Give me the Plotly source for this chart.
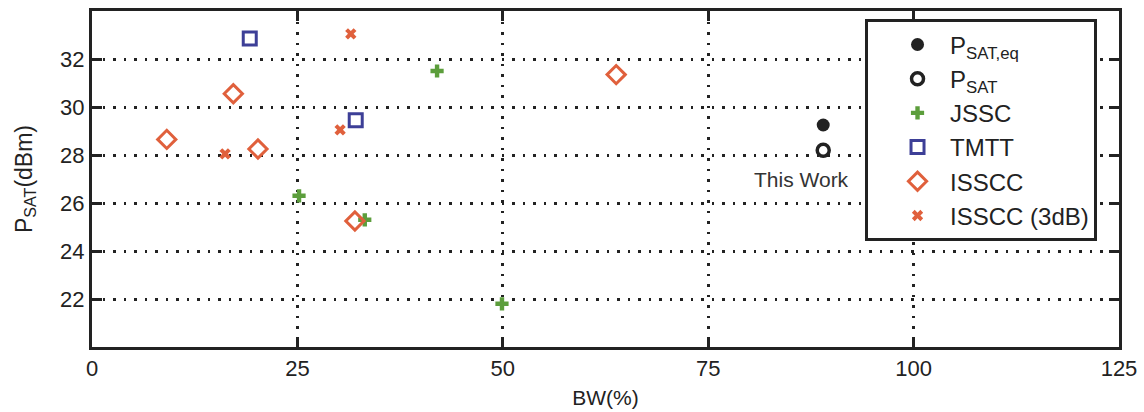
import plotly.graph_objects as go

# Saturated output power vs. fractional bandwidth, published PAs and this work
this_work_bw = [89.0]
this_work_psat_eq = [29.25]
this_work_psat = [28.2]

jssc_bw = [25.2, 33.2, 42.0, 49.9]
jssc_psat = [26.3, 25.3, 31.5, 21.8]

tmtt_bw = [19.2, 32.1]
tmtt_psat = [32.85, 29.45]

isscc_bw = [9.1, 17.2, 20.2, 32.0, 63.8]
isscc_psat = [28.65, 30.55, 28.25, 25.25, 31.35]

isscc3db_bw = [16.2, 30.2, 31.5]
isscc3db_psat = [28.05, 29.05, 33.05]

x_ticks = [0, 25, 50, 75, 100, 125]
y_ticks = [22, 24, 26, 28, 30, 32]

FONT = "Liberation Sans, Arial, sans-serif"
INK = "#222222"
GREEN = "#5c9e3c"
BLUE = "#3d3f97"
ORANGE = "#e0603c"

fig = go.Figure()

fig.add_trace(go.Scatter(
    x=this_work_bw, y=this_work_psat_eq, mode="markers",
    name="P<sub>SAT,eq</sub>",
    marker=dict(symbol="circle", size=13, color=INK),
))
fig.add_trace(go.Scatter(
    x=this_work_bw, y=this_work_psat, mode="markers",
    name="P<sub>SAT</sub>",
    marker=dict(symbol="circle-open", size=12, color=INK, line=dict(width=3.5, color=INK)),
))
fig.add_trace(go.Scatter(
    x=jssc_bw, y=jssc_psat, mode="markers", name="JSSC",
    marker=dict(symbol="cross", size=11, color=GREEN, line=dict(width=0)),
))
fig.add_trace(go.Scatter(
    x=tmtt_bw, y=tmtt_psat, mode="markers", name="TMTT",
    marker=dict(symbol="square-open", size=13, color=BLUE, line=dict(width=3, color=BLUE)),
))
fig.add_trace(go.Scatter(
    x=isscc_bw, y=isscc_psat, mode="markers", name="ISSCC",
    marker=dict(symbol="diamond-open", size=14, color=ORANGE, line=dict(width=3, color=ORANGE)),
))
fig.add_trace(go.Scatter(
    x=isscc3db_bw, y=isscc3db_psat, mode="markers", name="ISSCC (3dB)",
    marker=dict(symbol="x", size=10, color=ORANGE, line=dict(width=0)),
))

fig.add_annotation(
    x=86.3, y=27.0, text="This Work", showarrow=False,
    font=dict(family=FONT, size=21, color="#333333"),
)

axis_common = dict(
    showline=True, linewidth=3, linecolor=INK, mirror="ticks",
    ticks="inside", ticklen=10, tickwidth=3, tickcolor=INK,
    showgrid=True, gridcolor=INK, gridwidth=2.5, griddash="2.5px,8px",
    zeroline=False, automargin=False,
    tickfont=dict(family=FONT, size=22, color=INK),
)

fig.update_xaxes(
    range=[0, 125], tickvals=x_ticks, ticktext=[str(v) for v in x_ticks],
    title=dict(text="BW(%)", font=dict(family=FONT, size=21, color=INK), standoff=10),
    **axis_common,
)
fig.update_yaxes(
    range=[20, 34], tickvals=y_ticks, ticktext=[str(v) for v in y_ticks],
    title=dict(text="P<sub>SAT</sub>(dBm)", font=dict(family=FONT, size=23, color=INK), standoff=22),
    **axis_common,
)

fig.update_layout(
    width=1144, height=412,
    margin=dict(l=92, r=25, t=11, b=65),
    paper_bgcolor="white", plot_bgcolor="white",
    showlegend=True,
    legend=dict(
        x=0.7527, y=0.975, xanchor="left", yanchor="top",
        bgcolor="white", bordercolor=INK, borderwidth=3,
        font=dict(family=FONT, size=24, color=INK),
        indentation=17, itemwidth=55, tracegroupgap=0,
    ),
)

fig.write_html("out.html")
